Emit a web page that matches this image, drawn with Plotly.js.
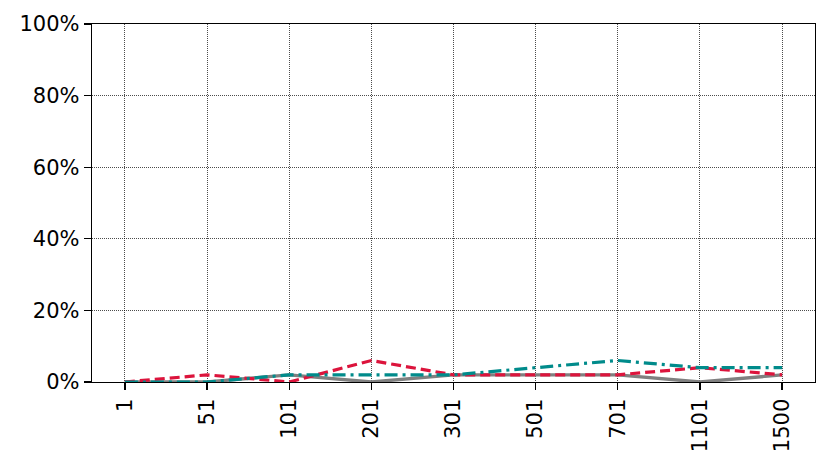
<!DOCTYPE html>
<html>
<head>
<meta charset="utf-8">
<script src="https://cdn.plot.ly/plotly-3.0.1.min.js"></script>
<style>html,body{margin:0;padding:0;background:#fff;}#chart{width:830px;height:468px;}</style>
</head>
<body>
<div id="chart"></div>
<script>
const categories = ["1","51","101","201","301","501","701","1101","1500"];
const seriesGray = [0, 0, 2, 0, 2, 2, 2, 0, 2];
const seriesRed = [0, 2, 0, 6, 2, 2, 2, 4, 2];
const seriesTeal = [0, 0, 2, 2, 2, 4, 6, 4, 4];
const yTicks = [0, 20, 40, 60, 80, 100];
const yTickText = yTicks.map(v => v + '%');

const traces = [
  {x: categories, y: seriesGray, type: 'scatter', mode: 'lines', line: {color: '#808080', width: 3.4}, showlegend: false},
  {x: categories, y: seriesRed, type: 'scatter', mode: 'lines', line: {color: '#dc143c', width: 3.2, dash: '10px,5px'}, showlegend: false},
  {x: categories, y: seriesTeal, type: 'scatter', mode: 'lines', line: {color: '#008b8b', width: 3.2, dash: '13px,5px,3px,5px'}, showlegend: false}
];

const layout = {
  width: 830, height: 468,
  margin: {l: 92, r: 15, t: 24, b: 86},
  paper_bgcolor: '#fff', plot_bgcolor: '#fff',
  font: {family: 'DejaVu Sans', size: 21, color: '#000'},
  xaxis: {
    type: 'category', range: [-0.4, 8.4],
    tickangle: -90, ticks: 'outside', ticklen: 7, tickwidth: 1.3, tickcolor: '#000',
    showline: true, linecolor: '#000', linewidth: 1.3, mirror: true,
    showgrid: true, gridcolor: '#000', gridwidth: 0.7, griddash: '1px,1px',
    zeroline: false, tickfont: {size: 21}
  },
  yaxis: {
    range: [0, 100], tickmode: 'array', tickvals: yTicks, ticktext: yTickText,
    ticks: 'outside', ticklen: 7, tickwidth: 1.3, tickcolor: '#000',
    showline: true, linecolor: '#000', linewidth: 1.3, mirror: true,
    showgrid: true, gridcolor: '#000', gridwidth: 0.7, griddash: '1px,1px',
    zeroline: false, tickfont: {size: 21}
  }
};

Plotly.newPlot('chart', traces, layout, {displayModeBar: false, staticPlot: true});
</script>
</body>
</html>
